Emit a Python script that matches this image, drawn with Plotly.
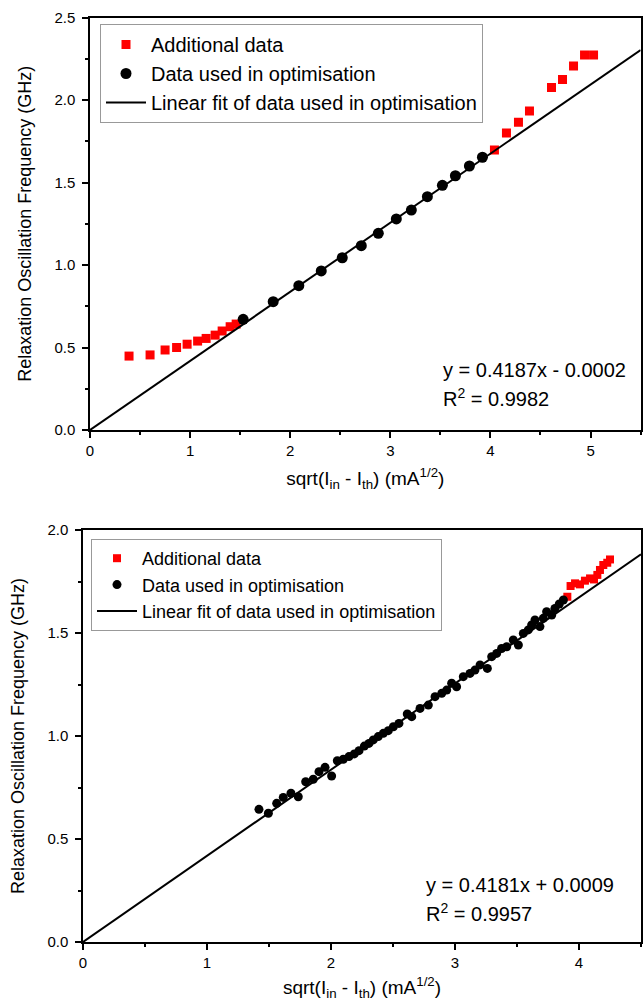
import plotly.graph_objects as go

# ---------------- data: top panel ----------------
top_add_x = [0.39, 0.60, 0.75, 0.865, 0.97, 1.075, 1.16, 1.25, 1.32, 1.40, 1.46,
             4.04, 4.16, 4.28, 4.39, 4.61, 4.72, 4.83, 4.94, 5.03]
top_add_y = [0.448, 0.455, 0.485, 0.50, 0.52, 0.539, 0.555, 0.575, 0.60, 0.626, 0.642,
             1.697, 1.80, 1.865, 1.933, 2.075, 2.125, 2.206, 2.273, 2.273]
top_opt_x = [1.53, 1.83, 2.086, 2.31, 2.52, 2.71, 2.88, 3.06, 3.21, 3.37, 3.52, 3.65, 3.79, 3.92]
top_opt_y = [0.671, 0.778, 0.875, 0.964, 1.044, 1.117, 1.192, 1.279, 1.333, 1.414, 1.483, 1.541, 1.60, 1.653]
top_fit_x = [0.0, 5.5]
top_fit_y = [0.0, 2.303]
top_eq = "y = 0.4187x - 0.0002"
top_r2 = "R<sup>2</sup> = 0.9982"

# ---------------- data: bottom panel ----------------
bot_add_x = [3.906, 3.932, 3.968, 4.008, 4.048, 4.089, 4.121, 4.148, 4.169, 4.196, 4.228, 4.25]
bot_add_y = [1.676, 1.728, 1.741, 1.736, 1.754, 1.765, 1.760, 1.782, 1.806, 1.830, 1.841, 1.857]
bot_opt_x = [1.419, 1.495, 1.562, 1.615, 1.677, 1.736, 1.796, 1.857, 1.903, 1.952, 2.005,
             2.051, 2.099, 2.145, 2.188, 2.226, 2.269, 2.306, 2.341, 2.381, 2.422, 2.462,
             2.503, 2.548, 2.615, 2.651, 2.718, 2.785, 2.839, 2.893, 2.933, 2.973, 3.013,
             3.067, 3.121, 3.161, 3.202, 3.261, 3.296, 3.336, 3.376, 3.417, 3.470, 3.511,
             3.551, 3.591, 3.618, 3.645, 3.685, 3.712, 3.739, 3.780, 3.806, 3.841, 3.874]
bot_opt_y = [0.644, 0.625, 0.673, 0.702, 0.722, 0.705, 0.778, 0.790, 0.827, 0.848, 0.806,
             0.880, 0.887, 0.900, 0.913, 0.929, 0.951, 0.964, 0.981, 0.997, 1.013, 1.026,
             1.045, 1.061, 1.107, 1.094, 1.134, 1.150, 1.191, 1.207, 1.223, 1.256, 1.239,
             1.288, 1.304, 1.320, 1.345, 1.328, 1.385, 1.401, 1.425, 1.433, 1.466, 1.442,
             1.498, 1.515, 1.539, 1.563, 1.531, 1.571, 1.603, 1.587, 1.619, 1.641, 1.660]
bot_fit_x = [0.0, 4.5]
bot_fit_y = [0.0, 1.882]
bot_eq = "y = 0.4181x + 0.0009"
bot_r2 = "R<sup>2</sup> = 0.9957"

names = ["Additional data", "Data used in optimisation", "Linear fit of data used in optimisation"]
x_title = "sqrt(I<sub>in</sub> - I<sub>th</sub>) (mA<sup>1/2</sup>)"
y_title = "Relaxation Oscillation Frequency (GHz)"

FONT = "Arial, Liberation Sans, sans-serif"
W, H = 644, 1007

fig = go.Figure()

# top panel traces
fig.add_trace(go.Scatter(x=top_add_x, y=top_add_y, mode="markers", name=names[0],
                         marker=dict(symbol="square", size=9, color="#ff0000"),
                         xaxis="x", yaxis="y", legend="legend"))
fig.add_trace(go.Scatter(x=top_opt_x, y=top_opt_y, mode="markers", name=names[1],
                         marker=dict(symbol="circle", size=11, color="black"),
                         xaxis="x", yaxis="y", legend="legend"))
fig.add_trace(go.Scatter(x=top_fit_x, y=top_fit_y, mode="lines", name=names[2],
                         line=dict(color="black", width=2),
                         xaxis="x", yaxis="y", legend="legend"))

# bottom panel traces
fig.add_trace(go.Scatter(x=bot_add_x, y=bot_add_y, mode="markers", name=names[0],
                         marker=dict(symbol="square", size=8, color="#ff0000"),
                         xaxis="x2", yaxis="y2", legend="legend2"))
fig.add_trace(go.Scatter(x=bot_opt_x, y=bot_opt_y, mode="markers", name=names[1],
                         marker=dict(symbol="circle", size=9, color="black"),
                         xaxis="x2", yaxis="y2", legend="legend2"))
fig.add_trace(go.Scatter(x=bot_fit_x, y=bot_fit_y, mode="lines", name=names[2],
                         line=dict(color="black", width=2),
                         xaxis="x2", yaxis="y2", legend="legend2"))

axis_common = dict(
    showline=True, linecolor="black", linewidth=1.5, mirror=True,
    ticks="outside", ticklen=6, tickwidth=1.5, tickcolor="black",
    showgrid=False, zeroline=False,
    tickfont=dict(family=FONT, size=15, color="black"),
    automargin=False,
)

fig.update_layout(
    width=W, height=H,
    margin=dict(l=0, r=0, t=0, b=0),
    paper_bgcolor="white", plot_bgcolor="white",
    font=dict(family=FONT, color="black"),
    xaxis=dict(domain=[90 / W, 640.6 / W], range=[0, 5.5], anchor="y",
               tick0=0, dtick=1,
               minor=dict(ticks="outside", ticklen=3, tickwidth=1.5, tickcolor="black", dtick=0.5),
               title=dict(text=x_title, font=dict(family=FONT, size=19), standoff=14),
               **axis_common),
    yaxis=dict(domain=[1 - 430 / H, 1 - 17.5 / H], range=[0, 2.5], anchor="x",
               tick0=0, dtick=0.5, tickformat=".1f", ticklabelstandoff=4,
               minor=dict(ticks="outside", ticklen=3, tickwidth=1.5, tickcolor="black", dtick=0.25),
               title=dict(text=y_title, font=dict(family=FONT, size=18), standoff=18),
               **axis_common),
    xaxis2=dict(domain=[83 / W, 641 / W], range=[0, 4.5], anchor="y2",
                tick0=0, dtick=1,
                minor=dict(ticks="outside", ticklen=3, tickwidth=1.5, tickcolor="black", dtick=0.5),
                title=dict(text=x_title, font=dict(family=FONT, size=19), standoff=11),
                **axis_common),
    yaxis2=dict(domain=[1 - 942 / H, 1 - 530 / H], range=[0, 2.0], anchor="x2",
                tick0=0, dtick=0.5, tickformat=".1f", ticklabelstandoff=4,
                minor=dict(ticks="outside", ticklen=3, tickwidth=1.5, tickcolor="black", dtick=0.25),
                title=dict(text=y_title, font=dict(family=FONT, size=18), standoff=18),
                **axis_common),
    legend=dict(x=100 / W, y=1 - 24 / H, xanchor="left", yanchor="top",
                bgcolor="white", bordercolor="#999999", borderwidth=1,
                font=dict(family=FONT, size=20, color="black"), itemwidth=40,
                tracegroupgap=0),
    legend2=dict(x=91 / W, y=1 - 539 / H, xanchor="left", yanchor="top",
                 bgcolor="white", bordercolor="#999999", borderwidth=1,
                 font=dict(family=FONT, size=18, color="black"), itemwidth=40,
                 tracegroupgap=0),
    showlegend=True,
)

ann_font = dict(family=FONT, size=20, color="black")
for (txt, xp, yp) in [(top_eq, 441, 370), (top_r2, 441, 397),
                      (bot_eq, 424, 885), (bot_r2, 424, 912)]:
    fig.add_annotation(text=txt, x=xp / W, y=1 - yp / H, xref="paper", yref="paper",
                       xanchor="left", yanchor="middle", showarrow=False, font=ann_font)

fig.write_html("out.html", config={"displayModeBar": False},
               post_script="document.body.style.margin='0';")
